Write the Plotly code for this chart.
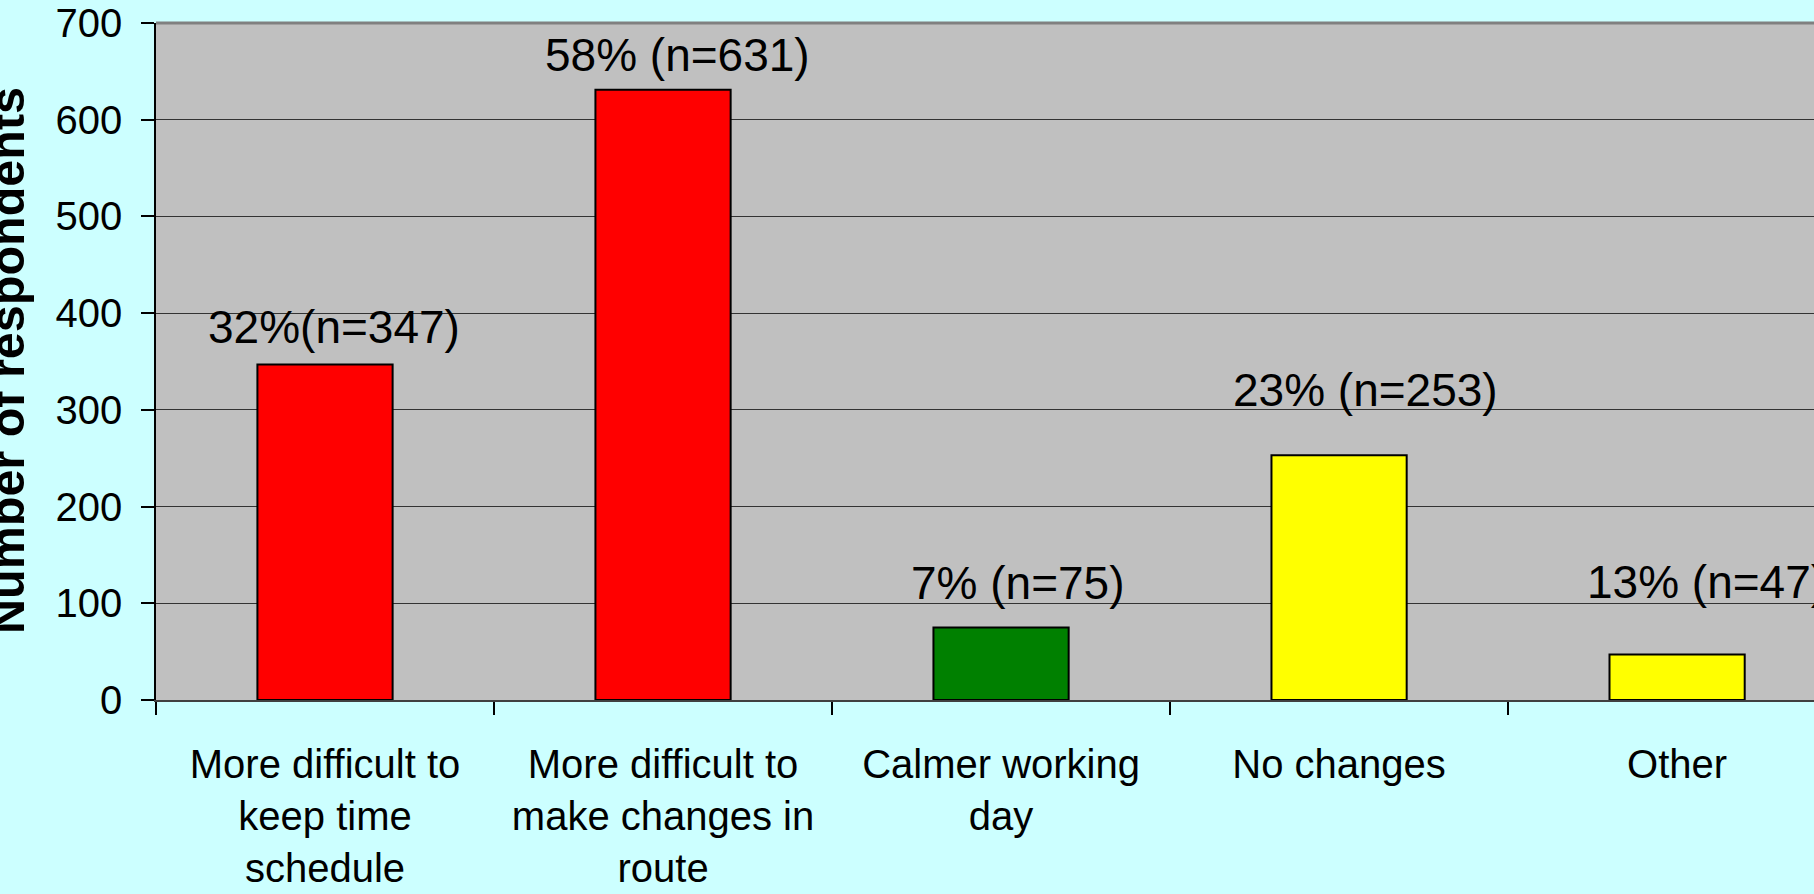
import plotly.graph_objects as go

categories = [
    "More difficult to<br>keep time<br>schedule",
    "More difficult to<br>make changes in<br>route",
    "Calmer working<br>day",
    "No changes",
    "Other",
]
respondents = [347, 631, 75, 253, 47]
value_labels = ["32%(n=347)", "58% (n=631)", "7% (n=75)", "23% (n=253)", "13% (n=47)"]
bar_colors = ["#FF0000", "#FF0000", "#008000", "#FFFF00", "#FFFF00"]
y_ticks = [0, 100, 200, 300, 400, 500, 600, 700]

# manual label placement (pixels): baseline gap above bar top, horizontal shift
label_gap = [21, 18, 28, 49, 56]
label_dx = [9, 14, 17, 26, 29]

FONT = "Liberation Sans, Arial, sans-serif"

x_idx = list(range(len(categories)))

fig = go.Figure()
fig.add_trace(go.Bar(
    x=x_idx,
    y=respondents,
    width=0.4,
    marker=dict(color=bar_colors, line=dict(color="#000000", width=2)),
    hoverinfo="skip",
))

LBL = 46
for i, (v, t) in enumerate(zip(respondents, value_labels)):
    fig.add_annotation(
        x=i, y=v, xref="x", yref="y",
        text=t, showarrow=False,
        font=dict(family=FONT, size=LBL, color="#000000"),
        xanchor="center", yanchor="bottom",
        xshift=label_dx[i],
        yshift=label_gap[i] - 0.212 * LBL - 1,
        borderpad=0,
    )

fig.add_annotation(
    x=(7 - 156) / 1658, y=(700 - 361) / 677,
    xref="paper", yref="paper",
    text="<b>Number of respondents</b>", textangle=-90, showarrow=False,
    font=dict(family=FONT, size=48.5, color="#000000"),
    xanchor="center", yanchor="middle",
)

# top border of plot area
fig.add_shape(type="line", xref="paper", yref="paper", x0=0, x1=1, y0=1, y1=1,
              line=dict(color="#808080", width=3), layer="above")

fig.update_layout(
    width=1814, height=894,
    margin=dict(l=156, r=0, t=23, b=194, pad=0, autoexpand=False),
    paper_bgcolor="#CCFFFF",
    plot_bgcolor="#C0C0C0",
    showlegend=False,
    xaxis=dict(
        tickmode="array",
        tickvals=x_idx,
        ticktext=categories,
        range=[-0.5, 4.405],
        showgrid=False,
        zeroline=False,
        showline=True, linecolor="#404040", linewidth=1.5,
        ticks="",
        tickfont=dict(family=FONT, size=40, color="#000000"),
        ticklabelstandoff=28,
        automargin=False,
        fixedrange=True,
    ),
    yaxis=dict(
        range=[0, 700],
        tickmode="array",
        tickvals=y_ticks,
        showgrid=True, gridcolor="#333333", gridwidth=1,
        zeroline=False,
        showline=True, linecolor="#000000", linewidth=1.5,
        ticks="outside", ticklen=13, tickcolor="#000000", tickwidth=1.5,
        tickfont=dict(family=FONT, size=40, color="#000000"),
        ticklabelstandoff=11,
        automargin=False,
        fixedrange=True,
    ),
)

# category boundary ticks on the x axis
fig.update_xaxes(minor=dict(tickmode="array", tickvals=[-0.5, 0.5, 1.5, 2.5, 3.5],
                            ticks="outside", ticklen=13, tickcolor="#000000", tickwidth=1.5,
                            showgrid=False))

fig.write_html(
    "out.html",
    config={"displayModeBar": False},
    post_script="document.body.style.margin='0';document.body.style.overflow='hidden';",
)
